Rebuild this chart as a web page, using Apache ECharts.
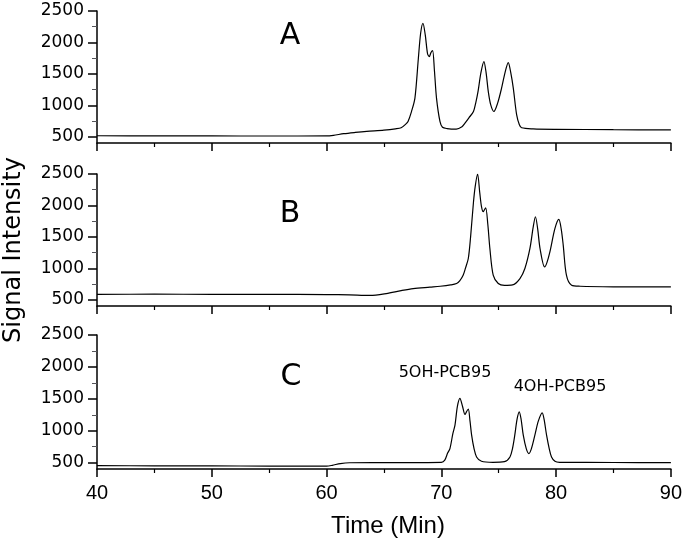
<!DOCTYPE html>
<html>
<head>
<meta charset="utf-8">
<script src="https://cdn.jsdelivr.net/npm/echarts@6/dist/echarts.min.js"></script>
<style>html,body{margin:0;padding:0;background:#fff;}#c{width:685px;height:546px;}</style>
</head>
<body>
<div id="c"></div>
<script>
// ---- data ----
var timeA = [40,45,50,55,60,60.6,61.5,62.5,63.5,65,66,66.5,66.9,67.1,67.4,67.7,68.0,68.2,68.4,68.6,68.8,68.95,69.1,69.24,69.4,69.58,69.88,70.1,70.5,71.3,71.8,72.06,72.4,72.8,73.0,73.2,73.45,73.71,73.9,74.09,74.3,74.58,74.9,75.25,75.55,75.83,76.05,76.27,76.56,76.8,77.0,78,80,85,90];
var sigA  = [515,514,512,511,512,522,548,568,585,605,625,642,700,743,900,1114,1749,2150,2304,2120,1820,1774,1840,1870,1550,1114,743,650,630,622,660,717,800,901,1040,1220,1520,1696,1520,1220,1010,901,1030,1273,1520,1680,1520,1273,850,690,642,625,618,612,608];

var timeB = [40,45,50,55,60,62,63.8,65.2,66.5,67.55,69,69.9,70.8,71.33,71.6,71.9,72.1,72.35,72.55,72.8,72.95,73.16,73.35,73.5,73.65,73.86,74.05,74.23,74.52,74.96,75.5,76.2,76.85,77.28,77.72,78.0,78.2,78.4,78.6,79.0,79.2,79.46,79.9,80.24,80.45,80.62,80.9,81.35,82.1,85,90];
var sigB  = [585,588,585,584,582,576,568,598,645,677,700,714,735,757,800,890,1000,1156,1500,2050,2300,2500,2200,1980,1900,1963,1700,1315,890,757,728,735,837,996,1315,1650,1820,1620,1315,1022,1090,1261,1634,1778,1620,1368,890,730,714,705,703];

var timeC = [40,45,50,55,60,60.5,61.2,62,66,70,70.3,70.55,70.75,71.0,71.19,71.4,71.62,71.85,72.06,72.2,72.35,72.5,72.64,72.85,73.07,73.5,74.5,75.5,75.98,76.2,76.4,76.6,76.79,76.95,77.14,77.4,77.63,77.85,78.15,78.45,78.79,78.95,79.17,79.4,79.6,79.9,80.3,85,90];
var sigC  = [452,450,448,446,445,458,485,498,500,505,540,650,720,950,1087,1380,1506,1380,1255,1300,1338,1150,930,720,589,521,505,515,589,720,930,1180,1295,1180,930,720,641,720,930,1150,1280,1180,930,720,589,521,505,502,500];

var yMajor = [500,1000,1500,2000,2500];
var yMinor = [750,1250,1750,2250];
var panelLabels = ['A','B','C'];
var peakLabels = ['5OH-PCB95','4OH-PCB95'];
var xTitle = 'Time (Min)';
var yTitle = 'Signal Intensity';

// ---- chart ----
function zip(t, v){ return t.map(function(x,i){ return [x, v[i]]; }); }
// category strings spanning 400..2500 in steps of 100, labelled only at the major values
var yCats = [];
for (var v = 400; v <= 2500; v += 100) { yCats.push(yMajor.indexOf(v) >= 0 ? String(v) : ''); }

var grids = [
  {left:97, right:14, top:11, height:132},
  {left:97, right:14, top:174, height:132},
  {left:97, right:14, top:335, height:134}
];
function makeX(i){
  return {
    type:'value', gridIndex:i, min:40, max:90, interval:10,
    axisLine:{show:true, lineStyle:{color:'#000', width:1.5}},
    axisTick:{show:true, length:8, lineStyle:{color:'#000', width:1.5}},
    minorTick:{show:true, splitNumber:2, length:4, lineStyle:{color:'#000', width:1.2}},
    splitLine:{show:false},
    axisLabel:{show:true, color:(i===2 ? '#000' : 'rgba(0,0,0,0)'), fontSize:20, fontFamily:'Liberation Sans', margin:14}
  };
}
function makeYMajor(i){
  return {
    type:'value', gridIndex:i, min:400, max:2500,
    axisLine:{show:true, onZero:false, lineStyle:{color:'#000', width:1.5}},
    axisTick:{show:true, length:9, customValues:[500,1000,1500,2000,2500], lineStyle:{color:'#000', width:1.5}},
    splitLine:{show:false},
    axisLabel:{show:false}
  };
}
function makeYMinor(i){
  return {
    type:'value', gridIndex:i, min:400, max:2500, position:'left',
    axisLine:{show:false},
    axisTick:{show:true, length:5, customValues:[750,1250,1750,2250]},
    splitLine:{show:false},
    axisLabel:{show:false}
  };
}
function makeYLabels(i){
  return {
    type:'category', gridIndex:i, position:'left', data:yCats.slice(), boundaryGap:false,
    axisLine:{show:false}, axisTick:{show:false}, splitLine:{show:false},
    axisLabel:{show:true, interval:0, color:'#000', fontSize:17, fontFamily:'DejaVu Sans', margin:13}
  };
}
var allData = [zip(timeA,sigA), zip(timeB,sigB), zip(timeC,sigC)];
var xAxes = [makeX(0), makeX(1), makeX(2)];
var yAxes = [makeYMajor(0), makeYMajor(1), makeYMajor(2),
             makeYMinor(0), makeYMinor(1), makeYMinor(2),
             makeYLabels(0), makeYLabels(1), makeYLabels(2)];
var series = [0,1,2].map(function(i){
  return {
    type:'line', xAxisIndex:i, yAxisIndex:i, data:allData[i],
    showSymbol:false, smooth:0.3,
    lineStyle:{color:'#000', width:1.2}
  };
});
function label(x, y, text, size, family, rot){
  return {type:'text', x:x, y:y, rotation:rot||0,
    style:{text:text, fontSize:size, fontFamily:family, fill:'#000', textAlign:'center', textVerticalAlign:'middle'}};
}
var chart = echarts.init(document.getElementById('c'));
chart.setOption({
  animation:false,
  grid:grids, xAxis:xAxes, yAxis:yAxes, series:series,
  graphic:[
    label(290, 36, panelLabels[0], 30, 'DejaVu Sans'),
    label(290, 214, panelLabels[1], 30, 'DejaVu Sans'),
    label(291, 377, panelLabels[2], 30, 'DejaVu Sans'),
    label(445, 373, peakLabels[0], 16, 'DejaVu Sans'),
    label(560, 387, peakLabels[1], 16, 'DejaVu Sans'),
    label(388, 526, xTitle, 24, 'Liberation Sans'),
    label(14, 250, yTitle, 24, 'DejaVu Sans', Math.PI/2)
  ]
});
</script>
</body>
</html>
